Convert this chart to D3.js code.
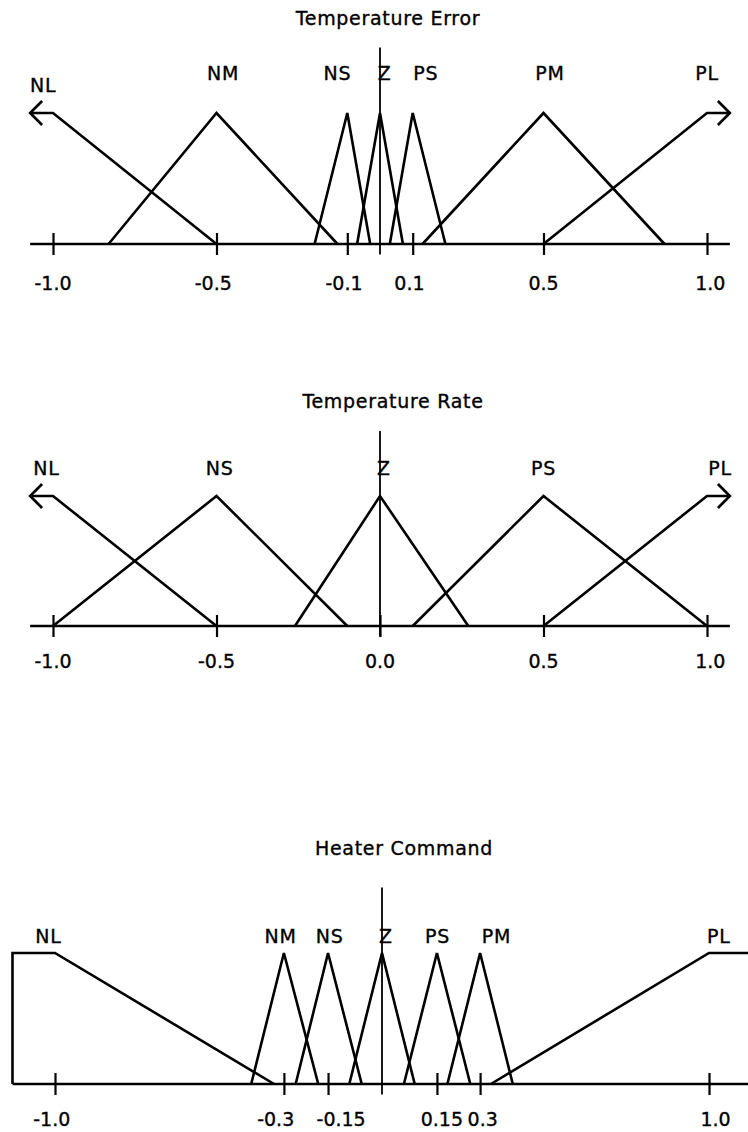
<!DOCTYPE html>
<html><head><meta charset="utf-8">
<script src="https://cdn.jsdelivr.net/npm/d3@7"></script>
<style>
body{margin:0;background:#fff}
svg{display:block}
text{font-family:"DejaVu Sans",sans-serif;fill:#000;font-size:19px;stroke:#000;stroke-width:0.35px}
text.ttl{letter-spacing:0.7px}
text.lbl{letter-spacing:0.8px}
</style>
</head><body><svg id="c" width="748" height="1132"></svg>
<script>
// ---------- Temperature Error ----------
const errorTitle = "Temperature Error";
const errorSets = ["NL","NM","NS","Z","PS","PM","PL"];
const errorShapes = [
  [[-1.07,1],[-1,1],[-0.5,0]],
  [[-0.83,0],[-0.5,1],[-0.13,0]],
  [[-0.2,0],[-0.1,1],[-0.03,0]],
  [[-0.07,0],[0,1],[0.07,0]],
  [[0.03,0],[0.1,1],[0.2,0]],
  [[0.13,0],[0.5,1],[0.87,0]],
  [[0.5,0],[1,1],[1.07,1]]
];
const errorArrows = ["left","","","","","","right"];
const errorLabelAt = [-1.03,-0.48,-0.13,0.014,0.14,0.52,1.0];
const errorTicks = [-1,-0.5,-0.1,0.1,0.5,1];
const errorTickLabels = ["-1.0","-0.5","-0.1","0.1","0.5","1.0"];
const errorTickLabelAt = [-1.0,-0.51,-0.11,0.09,0.5,1.01];
const errorAxisExtent = [-1.07,1.07];

// ---------- Temperature Rate ----------
const rateTitle = "Temperature Rate";
const rateSets = ["NL","NS","Z","PS","PL"];
const rateShapes = [
  [[-1.07,1],[-1,1],[-0.5,0]],
  [[-1,0],[-0.5,1],[-0.1,0]],
  [[-0.26,0],[0,1],[0.27,0]],
  [[0.1,0],[0.5,1],[1,0]],
  [[0.5,0],[1,1],[1.07,1]]
];
const rateArrows = ["left","","","","right"];
const rateLabelAt = [-1.02,-0.49,0.012,0.5,1.04];
const rateTicks = [-1,-0.5,0,0.5,1];
const rateTickLabels = ["-1.0","-0.5","0.0","0.5","1.0"];
const rateTickLabelAt = [-1.0,-0.5,0.0,0.5,1.01];
const rateAxisExtent = [-1.07,1.07];

// ---------- Heater Command ----------
const heaterTitle = "Heater Command";
const heaterSets = ["NL","NM","NS","Z","PS","PM","PL"];
const heaterShapes = [
  [[-1.13,0],[-1.13,1],[-1,1],[-0.33,0]],
  [[-0.4,0],[-0.3,1],[-0.195,0]],
  [[-0.264,0],[-0.165,1],[-0.062,0]],
  [[-0.1,0],[0,1],[0.1,0]],
  [[0.067,0],[0.168,1],[0.27,0]],
  [[0.2,0],[0.3,1],[0.4,0]],
  [[0.333,0],[1,1],[1.13,1]]
];
const heaterArrows = ["","","","","","",""];
const heaterLabelAt = [-1.02,-0.31,-0.16,0.012,0.17,0.35,1.03];
const heaterTicks = [-1,-0.3,-0.165,0.168,0.3,1];
const heaterTickLabels = ["-1.0","-0.3","-0.15","0.15","0.3","1.0"];
const heaterTickLabelAt = [-1.01,-0.325,-0.125,0.183,0.308,1.02];
const heaterAxisExtent = [-1.13,1.13];

// ---------- layout ----------
const panels = [
  {title:errorTitle, sets:errorSets, shapes:errorShapes, arrows:errorArrows, labelAt:errorLabelAt,
   ticks:errorTicks, tickLabels:errorTickLabels, tickLabelAt:errorTickLabelAt, extent:errorAxisExtent,
   xr:[53,707], axisY:244, peakY:113, titleX:388, titleY:25, labelLift:33, nlLift:21, tickTextDy:46},
  {title:rateTitle, sets:rateSets, shapes:rateShapes, arrows:rateArrows, labelAt:rateLabelAt,
   ticks:rateTicks, tickLabels:rateTickLabels, tickLabelAt:rateTickLabelAt, extent:rateAxisExtent,
   xr:[53,707], axisY:626, peakY:496, titleX:393, titleY:408, labelLift:21, nlLift:21, tickTextDy:42},
  {title:heaterTitle, sets:heaterSets, shapes:heaterShapes, arrows:heaterArrows, labelAt:heaterLabelAt,
   ticks:heaterTicks, tickLabels:heaterTickLabels, tickLabelAt:heaterTickLabelAt, extent:heaterAxisExtent,
   xr:[55,709], axisY:1084, peakY:953, titleX:404, titleY:855, labelLift:10, nlLift:10, tickTextDy:42}
];

const svg = d3.select("#c");

panels.forEach(p => {
  const x = d3.scaleLinear().domain([-1,1]).range(p.xr);
  const y = d3.scaleLinear().domain([0,1]).range([p.axisY, p.peakY]);
  const g = svg.append("g");

  g.append("text").attr("class","ttl").attr("x", p.titleX).attr("y", p.titleY)
    .attr("text-anchor","middle").text(p.title);

  // baseline
  g.append("line")
    .attr("x1", x(p.extent[0])).attr("x2", x(p.extent[1]))
    .attr("y1", y(0)).attr("y2", y(0))
    .attr("stroke","#000").attr("stroke-width",2.6);

  // zero vertical
  g.append("line")
    .attr("x1", x(0)).attr("x2", x(0))
    .attr("y1", y(-0.08)).attr("y2", y(1.5))
    .attr("stroke","#000").attr("stroke-width",1.8);

  // axis ticks
  const ax = d3.axisBottom(x).tickValues(p.ticks)
    .tickFormat(() => "").tickSize(11).tickPadding(0);
  const axg = g.append("g").attr("transform",`translate(0,${y(0)})`).call(ax);
  axg.select(".domain").remove();
  axg.selectAll(".tick line").attr("y1",-11).attr("y2",11)
    .attr("stroke","#000").attr("stroke-width",2.2);
  axg.selectAll(".tick text").remove();

  // tick labels
  g.selectAll("text.tl").data(p.tickLabels).join("text")
    .attr("class","tl")
    .attr("x",(d,i) => x(p.tickLabelAt[i]))
    .attr("y", y(0) + p.tickTextDy)
    .attr("text-anchor","middle")
    .attr("font-family",'"Liberation Sans",Arial,sans-serif')
    .attr("font-size",18)
    .text(d => d);

  // membership functions
  const line = d3.line().x(d => x(d[0])).y(d => y(d[1]));
  g.selectAll("path.mf").data(p.shapes).join("path")
    .attr("class","mf")
    .attr("d", line)
    .attr("fill","none").attr("stroke","#000")
    .attr("stroke-width",2.6).attr("stroke-linejoin","miter");

  // arrowheads
  p.shapes.forEach((s,i) => {
    const dir = p.arrows[i];
    if (!dir) return;
    const pt = dir === "left" ? s[0] : s[s.length-1];
    const tx = x(pt[0]), ty = y(pt[1]);
    const k = dir === "left" ? 1 : -1;
    g.append("path")
      .attr("d", `M${tx+12*k},${ty-12} L${tx},${ty} L${tx+12*k},${ty+12}`)
      .attr("fill","none").attr("stroke","#000").attr("stroke-width",2.6);
  });

  // set labels
  g.selectAll("text.lbl").data(p.sets).join("text")
    .attr("class","lbl")
    .attr("x",(d,i) => x(p.labelAt[i]))
    .attr("y",(d,i) => y(1) - (d === "NL" ? p.nlLift : p.labelLift))
    .attr("text-anchor","middle")
    .text(d => d);
});
</script>
</body></html>
